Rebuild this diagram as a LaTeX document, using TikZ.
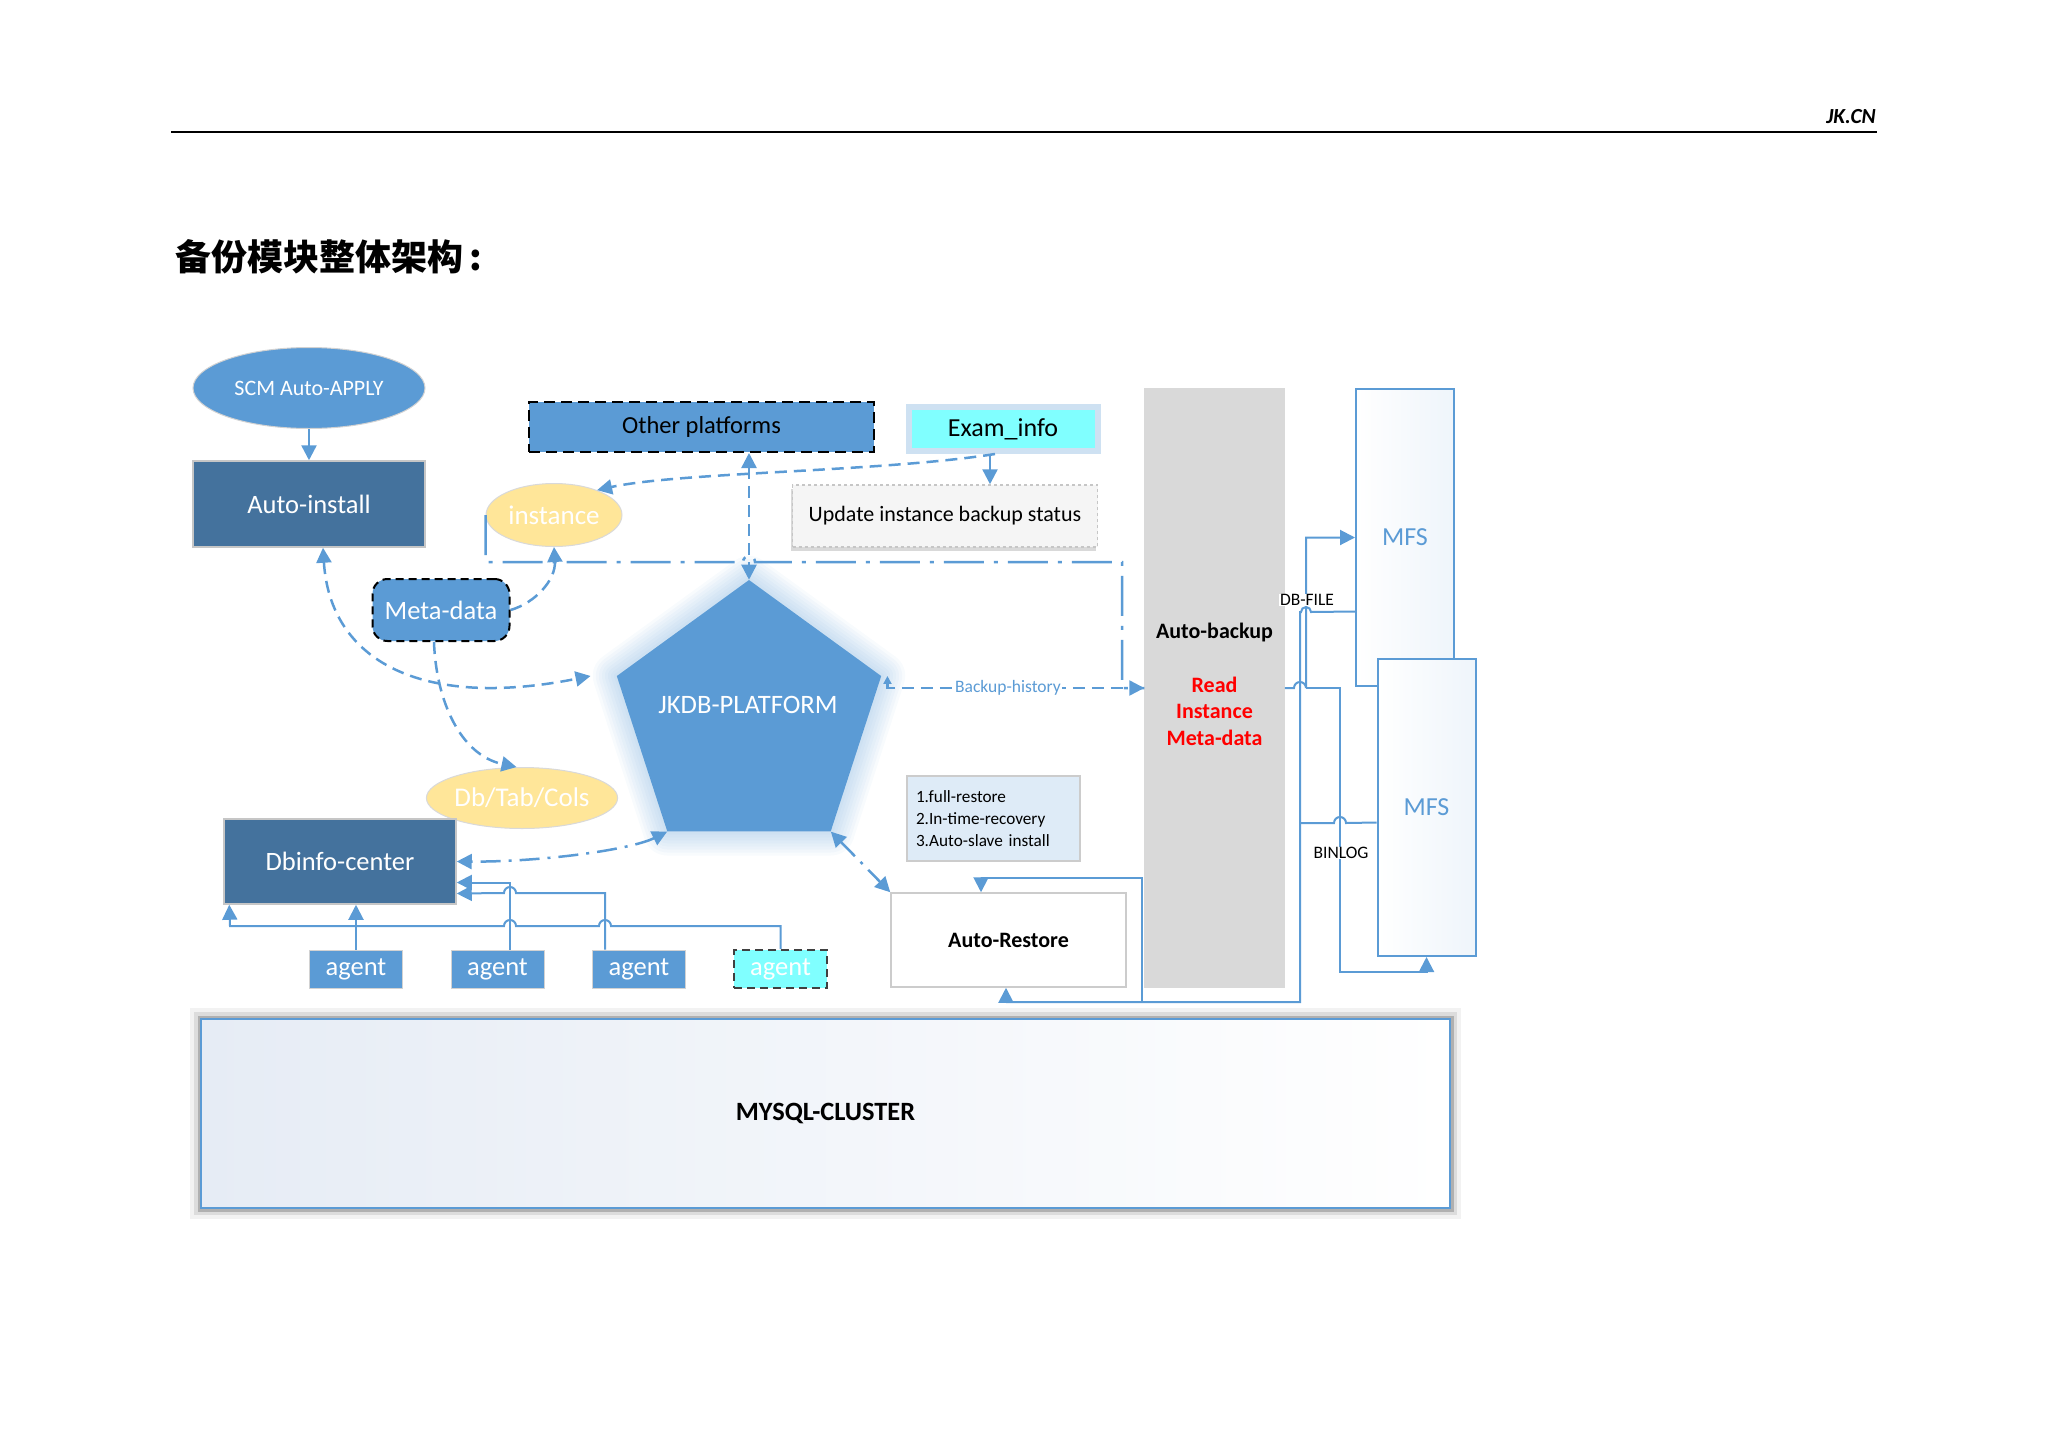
\documentclass[tikz,border=0pt]{standalone}
\usepackage{fontspec}
\setmainfont{Carlito}
\newfontfamily\cjkfont{Noto Sans CJK SC}
\usetikzlibrary{shapes.geometric,arrows.meta,shadows}
\definecolor{mblue}{HTML}{5B9BD5}
\definecolor{dblue}{HTML}{44729D}
\definecolor{mgold}{HTML}{FFE699}
\definecolor{mcyan}{HTML}{80FFFF}
\definecolor{notebg}{HTML}{DEEBF7}
\definecolor{boxgray}{HTML}{D9D9D9}
\definecolor{mist}{HTML}{E6ECF5}

\begin{document}
\begin{tikzpicture}[x=1pt,y=-1pt,>={Triangle[length=15pt,width=15pt]},
  fsz/.style={font=\fontsize{#1}{#1}\selectfont},
  bluebox/.style={draw=gray!35,line width=1pt,fill=mblue,text=white,inner sep=0pt},
  darkbox/.style={draw=gray!45,line width=1.5pt,fill=dblue,text=white,inner sep=0pt,fsz=26.5},
  goldoval/.style={ellipse,draw=gray!30,line width=1pt,fill=mgold,text=white,inner sep=0pt,fsz=27},
  agentbox/.style={bluebox,minimum width=93pt,minimum height=38pt,fsz=26.5},
  mfsbox/.style={draw=mblue,line width=2pt,left color=white,right color=mblue!10,text=mblue,
    minimum width=98pt,minimum height=297pt,fsz=26},
  conn/.style={draw=mblue,line width=2.5pt},
  dashconn/.style={conn,dash pattern=on 12pt off 7pt},
  ddconn/.style={conn,dash pattern=on 20pt off 8pt on 3pt off 8pt},
  frameline/.style={conn,dash pattern=on 40pt off 10pt on 4pt off 10pt},
  wire/.style={draw=mblue,line width=2pt},
  lbl/.style={fill=white,inner xsep=1.5pt,inner ysep=0.5pt,fsz=17.5}]
  \useasboundingbox (0,0) rectangle (2048,1448);

  \draw[line width=2pt] (171,132) -- (1877,132);
  \node (brand) [anchor=base east,inner sep=0pt,font=\bfseries\itshape\fontsize{21.5}{21.5}\selectfont] at (1876,123) {JK.CN};
  \node (title) [anchor=west,inner sep=0pt,font=\cjkfont\bfseries\fontsize{36}{36}\selectfont] at (175,257) {备份模块整体架构\,:};

  \node (scm) [bluebox,ellipse,minimum width=232pt,minimum height=81pt,fsz=22] at (309,388) {SCM Auto-APPLY};
  \node (install) [darkbox,minimum width=232pt,minimum height=86pt] at (309,504) {Auto-install};
  \node (other) [bluebox,draw=black,line width=2pt,dash pattern=on 11pt off 6pt,minimum width=345pt,minimum height=50pt,text=black,fsz=24.5] at (701.5,427) {Other platforms};
  \node (exam) [draw=mblue!30,line width=6pt,fill=mcyan,minimum width=189pt,minimum height=44pt,fsz=26] at (1003,429) {Exam\_info};
  \node (upd) [draw=gray!45,dashed,line width=1.5pt,fill=gray!8,minimum width=305pt,minimum height=62pt,fsz=22,
    drop shadow={shadow xshift=-2pt,shadow yshift=-4pt,opacity=.3}] at (945,516) {Update instance backup status};
  \node (inst) [goldoval,minimum width=136pt,minimum height=63pt] at (554,515) {instance};
  \node (meta) [bluebox,draw=black,line width=2pt,dash pattern=on 8pt off 5pt,rounded corners=15pt,minimum width=137pt,minimum height=62pt,fsz=26.5] at (441,610) {Meta-data};
  \foreach \w in {6,12,...,48}
    \draw[mblue,line width=\w pt,opacity=.045,line join=round] (749,580) -- (881.2,676) -- (830.7,831.5) -- (667.3,831.5) -- (616.8,676) -- cycle;
  \node (jkdb) [regular polygon,regular polygon sides=5,minimum size=278pt,inner sep=0pt,fill=mblue] at (749,719) {};
  \node (jkdblbl) [text=white,fsz=26.6] at (748,705) {JKDB-PLATFORM};
  \node (dbtab) [goldoval,minimum width=175pt,minimum height=61pt] at (522,798) {Db/Tab/Cols};
  \node (dbinfo) [darkbox,minimum width=232pt,minimum height=85pt] at (340,861.5) {Dbinfo-center};

  \node (ag1) [agentbox] at (356,969) {agent};
  \node (ag2) [agentbox] at (497.5,969) {agent};
  \node (ag3) [agentbox] at (639,969) {agent};
  \node (ag4) [agentbox,fill=mcyan,draw=black!75,line width=2pt,dash pattern=on 8pt off 5pt] at (780.5,969) {agent};

  \node (note) [draw=gray!40,line width=1.5pt,fill=notebg,minimum width=173pt,minimum height=85pt,text width=155pt,align=left,inner sep=0pt,
    font=\fontsize{17.2}{22}\selectfont] at (993.5,818.5) {1.full-restore\\2.In-time-recovery\\3.Auto-slave install};
  \node (restore) [draw=gray!40,line width=1.5pt,fill=white,minimum width=235pt,minimum height=94pt,
    font=\bfseries\fontsize{22}{22}\selectfont] at (1008.5,940) {Auto-Restore};
  \node (backup) [draw=gray!30,line width=1.5pt,fill=boxgray,minimum width=139pt,minimum height=598pt] at (1214.5,688) {};
  \node (bktxt) [align=center,font=\bfseries\fontsize{22}{26.5}\selectfont] at (1214.5,684) {Auto-backup\\[27.5pt]\textcolor{red}{Read}\\\textcolor{red}{Instance}\\\textcolor{red}{Meta-data}};
  \node (mfsA) [mfsbox] at (1405,537.5) {MFS};
  \node (mfsB) [mfsbox] at (1426.5,807.5) {MFS};

  \node (mysql) [draw=mblue,line width=1.5pt,left color=mist,right color=white,minimum width=1249pt,minimum height=189pt,
    font=\bfseries\fontsize{26.4}{26.4}\selectfont,
    preaction={draw=black,line width=22pt,opacity=.05},
    preaction={draw=black,line width=14pt,opacity=.09},
    preaction={draw=black,line width=7pt,opacity=.2}] at (825.5,1113.5) {MYSQL-CLUSTER};

  \draw[conn,->] (scm) -- (install);
  \draw[conn,->] ([xshift=-13pt]exam.south) -- ([xshift=-13pt]exam.south |- upd.north);
  \draw[dashconn,->] ([xshift=-8pt]exam.south) .. controls (880,472) and (680,472) .. (inst.30);
  \draw[dashconn,<->] (jkdb.90 |- other.south) -- (jkdb.90);
  \draw[frameline] (inst.west) |- (743,562) arc(180:360:6) -- (1122,562) |- (backup.west);
  \draw[dashconn,->] (meta.east) .. controls (535,603) and (556,580) .. (inst.south);
  \draw[dashconn,<->] ([xshift=14pt]install.south) .. controls (330,660) and (420,710) .. ([xshift=-26pt]jkdb.162);
  \draw[dashconn,->] ([xshift=-7pt]meta.south) .. controls (436,700) and (460,755) .. (dbtab.100);
  \draw[ddconn,<->] (jkdb.234) .. controls (630,850) and (540,862) .. (dbinfo.east);
  \draw[ddconn,<->] (jkdb.306) -- (restore.north west);
  \draw[dashconn,arrows={Triangle[length=8pt,width=8pt]->}] ([xshift=6pt]jkdb.18) |- (backup.west);
  \node (bhist) [lbl,text=mblue] at (1008,688) {Backup-history};

  \draw[wire,->] (ag1) -- (ag1 |- dbinfo.south);
  \draw[wire,->] ([xshift=12.5pt]ag2.north) |- ([yshift=-21pt]dbinfo.east);
  \draw[wire,->] ([xshift=-34pt]ag3.north) -- (605,893) -- (516,893) arc(0:-180:6) -- ([yshift=-32pt]dbinfo.east);
  \draw[wire,->] (ag4) |- (611,926) arc(0:-180:6) -- (516,926) arc(0:-180:6) -- (230,926) -- ([xshift=6pt]dbinfo.south west);

  \coordinate (rbus) at (1300,1002);
  \draw[wire,->] (backup.east) -- (1294,688) arc(180:360:6) -- (1306,688) |- (mfsA.west);
  \draw[wire,->] (1306,688) -- (1340,688) |- ([yshift=-15pt]mfsB.south) -- (mfsB.south);
  \draw[wire,->] ([yshift=-74pt]mfsA.west) -- (1311,612) arc(0:-180:5) -- (1300,612) -- (rbus) -| ([xshift=-2.5pt]restore.south);
  \draw[wire] ([yshift=-15pt]mfsB.west) -- (1346,823) arc(0:-180:6) -- (1300,823);
  \draw[wire,->] (rbus -| 1142,0) |- (981,878) -- ([xshift=-27.5pt]restore.north);
  \node (dbfile) [lbl] at (1307,600) {DB-FILE};
  \node (binlog) [lbl] at (1341,853) {BINLOG};
\end{tikzpicture}
\end{document}
